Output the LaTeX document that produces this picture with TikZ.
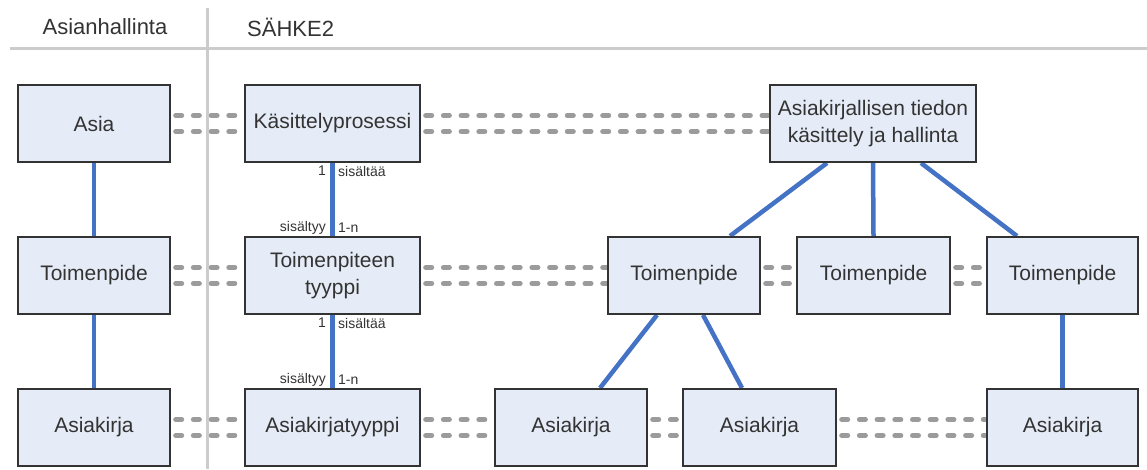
\documentclass[tikz,border=0pt]{standalone}
\usepackage{fontspec}
\setmainfont{Liberation Sans}
\usetikzlibrary{backgrounds}
\definecolor{boxfill}{HTML}{E6ECF7}
\definecolor{boxline}{HTML}{333333}
\definecolor{link}{HTML}{4472C4}
\definecolor{mapline}{HTML}{9B9B9B}
\definecolor{rulegray}{HTML}{CCCCCC}
\definecolor{ink}{HTML}{333333}
\tikzset{
  entity/.style={draw=boxline, fill=boxfill, line width=2pt, text=ink,
    font=\fontsize{21}{27}\selectfont, align=center,
    minimum height=77pt, minimum width=#1, inner sep=0pt},
  entity/.default=152pt,
  header/.style={text=ink, font=\fontsize{22}{26}\selectfont, inner sep=0pt},
  card/.style={text=ink, font=\fontsize{14}{16}\selectfont, inner sep=0pt},
  contains/.style={draw=link, line width=4.5pt},
  maps/.style={draw=mapline, line width=5pt, line cap=round,
    dash pattern=on 6pt off 11.7pt, dash phase=13pt},
  divider/.style={draw=rulegray, line width=3pt},
}
% two parallel dashed lines joining two boxes side by side
\newcommand\pairlink[2]{%
  \draw[maps] ([yshift=8pt]#1.east) -- ([yshift=8pt]#2.west);
  \draw[maps] ([yshift=-8pt]#1.east) -- ([yshift=-8pt]#2.west);}
\begin{document}
\begin{tikzpicture}[x=1pt,y=-1pt]
\useasboundingbox (0,0) rectangle (1147,469);

% column headings and rules
\draw[divider] (10,48) -- (1147,48);
\draw[divider] (207,8) -- (207,469);
\node[header] (hAsian) at (105,27) {Asianhallinta};
\node[header, anchor=west] (hSahke) at (247,27) {SÄHKE2};

% row 1
\node[entity] (asia) at (94,123.5) {Asia};
\node[entity=175pt] (kasit) at (332.5,123.5) {Käsittelyprosessi};
\node[entity=206pt] (akt) at (873,123.5) {Asiakirjallisen tiedon\\käsittely ja hallinta};

% row 2
\node[entity] (toimL) at (94,275.5) {Toimenpide};
\node[entity=175pt] (ttyyppi) at (332.5,275.5) {Toimenpiteen\\tyyppi};
\node[entity] (toimA) at (684,275.5) {Toimenpide};
\node[entity=153pt] (toimB) at (873.5,275.5) {Toimenpide};
\node[entity=151pt] (toimC) at (1062.5,275.5) {Toimenpide};

% row 3
\node[entity] (akL) at (94,427.5) {Asiakirja};
\node[entity=175pt] (aktyyppi) at (332.5,427.5) {Asiakirjatyyppi};
\node[entity] (akA) at (571,427.5) {Asiakirja};
\node[entity=153pt] (akB) at (759.5,427.5) {Asiakirja};
\node[entity=151pt] (akC) at (1062.5,427.5) {Asiakirja};

\begin{scope}[on background layer]
  % correspondences between the models
  \pairlink{asia}{kasit}
  \pairlink{kasit}{akt}
  \pairlink{toimL}{ttyyppi}
  \pairlink{ttyyppi}{toimA}
  \pairlink{toimA}{toimB}
  \pairlink{toimB}{toimC}
  \pairlink{akL}{aktyyppi}
  \pairlink{aktyyppi}{akA}
  \pairlink{akA}{akB}
  \pairlink{akB}{akC}

  % hierarchy links
  \draw[contains] (asia) -- (toimL);
  \draw[contains] (toimL) -- (akL);
  \draw[contains] (kasit) -- (ttyyppi);
  \draw[contains] (ttyyppi) -- (aktyyppi);
  \draw[contains] ([xshift=-46pt]akt.south) -- ([xshift=46pt]toimA.north);
  \draw[contains] (akt.south) -- (toimB.north);
  \draw[contains] ([xshift=48pt]akt.south) -- ([xshift=-45.5pt]toimC.north);
  \draw[contains] ([xshift=-27pt]toimA.south) -- ([xshift=29pt]akA.north);
  \draw[contains] ([xshift=19pt]toimA.south) -- ([xshift=-17.5pt]akB.north);
  \draw[contains] (toimC) -- (akC);
\end{scope}

% cardinalities
\node[card, anchor=east] (c1a) at (326,171) {1};
\node[card, anchor=west] (c1b) at (338,171) {sisältää};
\node[card, anchor=east] (c1c) at (326,228) {sisältyy};
\node[card, anchor=west] (c1d) at (338,228) {1-n};
\node[card, anchor=east] (c2a) at (326,323) {1};
\node[card, anchor=west] (c2b) at (338,323) {sisältää};
\node[card, anchor=east] (c2c) at (326,380) {sisältyy};
\node[card, anchor=west] (c2d) at (338,380) {1-n};
\end{tikzpicture}
\end{document}
